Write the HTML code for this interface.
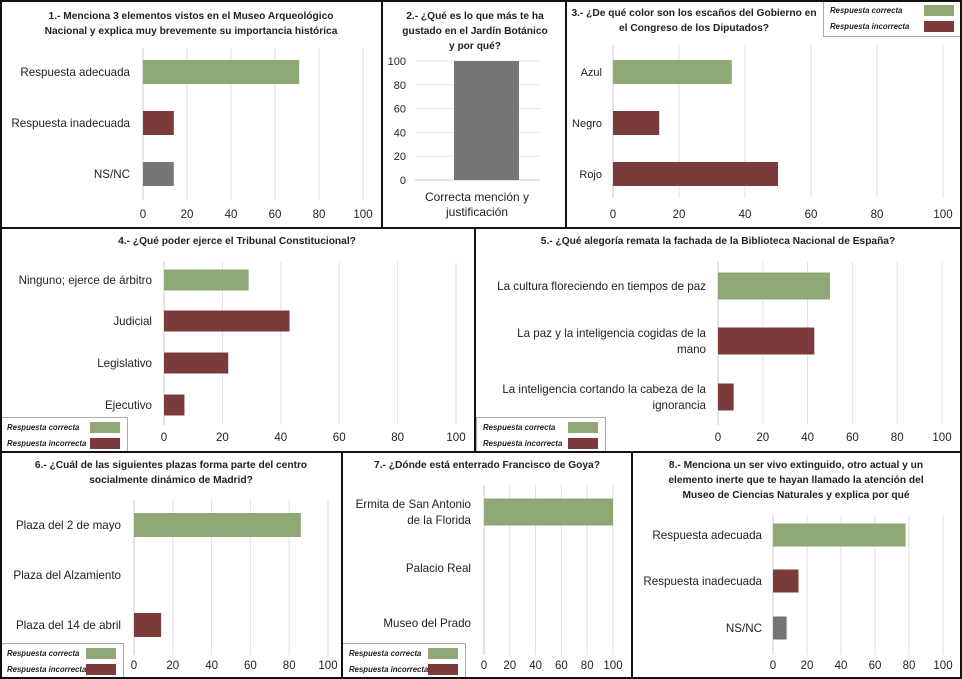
<!DOCTYPE html>
<html><head><meta charset="utf-8"><style>
html,body{margin:0;padding:0;background:#fff;}
svg{display:block;font-family:"Liberation Sans",sans-serif;}
</style></head><body>
<svg id="s" width="962" height="679" viewBox="0 0 962 679"></svg>
<script>
const ticks = [0,20,40,60,80,100];
const tickLabels = ["0","20","40","60","80","100"];
const p1Cats = [["Respuesta adecuada"],["Respuesta inadecuada"],["NS/NC"]];
const p1Vals = [71,14,14];
const p2Cats = ["Correcta mención y","justificación"];
const p2Vals = [100];
const p3Cats = [["Azul"],["Negro"],["Rojo"]];
const p3Vals = [36,14,50];
const p4Cats = [["Ninguno; ejerce de árbitro"],["Judicial"],["Legislativo"],["Ejecutivo"]];
const p4Vals = [29,43,22,7];
const p5Cats = [["La cultura floreciendo en tiempos de paz"],["La paz y la inteligencia cogidas de la","mano"],["La inteligencia cortando la cabeza de la","ignorancia"]];
const p5Vals = [50,43,7];
const p6Cats = [["Plaza del 2 de mayo"],["Plaza del Alzamiento"],["Plaza del 14 de abril"]];
const p6Vals = [86,0,14];
const p7Cats = [["Ermita de San Antonio","de la Florida"],["Palacio Real"],["Museo del Prado"]];
const p7Vals = [100,0,0];
const p8Cats = [["Respuesta adecuada"],["Respuesta inadecuada"],["NS/NC"]];
const p8Vals = [78,15,8];

const G="#8fa876", R="#7b3b3b", K="#767676";
const svg=document.getElementById('s');
const NS="http://www.w3.org/2000/svg";
function mk(tag,attrs,parent){const e=document.createElementNS(NS,tag);for(const k in attrs)e.setAttribute(k,attrs[k]);(parent||svg).appendChild(e);return e;}
function txt(x,y,s,size,anchor,weight,parent,style){const t=mk('text',{x:x,y:y,'font-size':size,'text-anchor':anchor,'fill':'#222'},parent);if(weight)t.setAttribute('font-weight',weight);if(style)t.setAttribute('font-style',style);t.textContent=s;return t;}

function hchart(name,cfg,cats,vals,colors){
  const g=mk('g',{});
  
  
  const sx=v=>cfg.x0+(cfg.x1-cfg.x0)*v/100;
  ticks.forEach((t,i)=>{
    const l=mk('line',{x1:sx(t),x2:sx(t),y1:cfg.gy0,y2:cfg.gy1,stroke:i==0?'#c8c8c8':'#e2e2e2','stroke-width':1},g);
    
    
    const tl=txt(sx(t),cfg.ty,tickLabels[i],11.5,'middle',null,g);
    
    
  });
  cats.forEach((c,i)=>{
    const cy=cfg.cy[i];
    if(vals[i]>0){
      const b=mk('rect',{x:sx(0),y:cy-cfg.bh/2,width:sx(vals[i])-sx(0),height:cfg.bh,fill:colors[i]},g);
      
      
    }
    const n=c.length;
    c.forEach((line,j)=>{
      const t=txt(cfg.lx,cy+4+(j-(n-1)/2)*16,line,cfg.fs||11.6,cfg.la||'end',null,g);
      
      
    });
  });
}
function title(lines,cx,y0,name){
  lines.forEach((l,i)=>{const t=txt(cx,y0+i*15,l,10.2,'middle','bold');
    
    });
}
function legend(x,y,w,h,name){
  const g=mk('g',{});
  
  
  mk('rect',{x:x+0.5,y:y+0.5,width:w-1,height:h-1,fill:'#fff',stroke:'#555','stroke-dasharray':'1,1'},g);
  txt(x+7,y+13,'Respuesta correcta',7.8,'start','bold',g,'italic');
  txt(x+7,y+29,'Respuesta incorrecta',7.8,'start','bold',g,'italic');
  mk('rect',{x:x+w-38,y:y+5,width:30,height:11,fill:G},g);
  mk('rect',{x:x+w-38,y:y+21,width:30,height:11,fill:R},g);
}

// Panel 1
title(["1.- Menciona 3 elementos vistos en el Museo Arqueológico","Nacional y explica muy brevemente su importancia histórica"],191,19,'chart1-title');
hchart('chart1',{x0:143,x1:363,gy0:48,gy1:200,ty:218,cy:[72,123,174],bh:24,lx:130},p1Cats,p1Vals,[G,R,K]);

// Panel 2 (vertical)
title(["2.- ¿Qué es lo que más te ha","gustado en el Jardín Botánico","y por qué?"],475,19,'chart2-title');
(function(){
  const g=mk('g',{});
  
  
  const sy=v=>180-(180-61)*v/100;
  ticks.forEach((t,i)=>{
    mk('line',{x1:415,x2:540,y1:sy(t),y2:sy(t),stroke:i==0?'#c8c8c8':'#e6e6e6'},g);
    const tl=txt(406,sy(t)+4,tickLabels[i],11,'end',null,g);
    
    
  });
  const b=mk('rect',{x:454,y:sy(p2Vals[0]),width:65,height:sy(0)-sy(p2Vals[0]),fill:K},g);
  
  
  p2Cats.forEach((l,i)=>{const t=txt(477,201+i*15,l,12,'middle',null,g);
    
    });
})();

// Panel 3
title(["3.- ¿De qué color son los escaños del Gobierno en","el Congreso de los Diputados?"],694,16,'chart3-title');
hchart('chart3',{x0:613,x1:943,gy0:45,gy1:198,ty:218,cy:[72,123,174],bh:24,lx:602,fs:11},p3Cats,p3Vals,[G,R,R]);
legend(823,0,139,37,'chart3-legend');

// Panel 4
title(["4.- ¿Qué poder ejerce el Tribunal Constitucional?"],237,244,'chart4-title');
hchart('chart4',{x0:164,x1:456,gy0:262,gy1:425,ty:441,cy:[280,321,363,405],bh:21,lx:152},p4Cats,p4Vals,[G,R,R,R]);
legend(0,417,128,35,'chart4-legend');

// Panel 5
title(["5.- ¿Qué alegoría remata la fachada de la Biblioteca Nacional de España?"],718,244,'chart5-title');
hchart('chart5',{x0:718,x1:942,gy0:262,gy1:425,ty:441,cy:[286,341,397],bh:27,lx:706},p5Cats,p5Vals,[G,R,R]);
legend(476,417,130,35,'chart5-legend');

// Panel 6
title(["6.- ¿Cuál de las siguientes plazas forma parte del centro","socialmente dinámico de Madrid?"],171,468,'chart6-title');
hchart('chart6',{x0:134,x1:328,gy0:500,gy1:655,ty:669,cy:[525,575,625],bh:24,lx:121},p6Cats,p6Vals,[G,G,R]);
legend(0,643,124,36,'chart6-legend');

// Panel 7
title(["7.- ¿Dónde está enterrado Francisco de Goya?"],487,468,'chart7-title');
hchart('chart7',{x0:484,x1:613,gy0:485,gy1:655,ty:669,cy:[512,568,623],bh:27,lx:471},p7Cats,p7Vals,[G,G,G]);
legend(342,643,124,36,'chart7-legend');

// Panel 8
title(["8.- Menciona un ser vivo extinguido, otro actual y un","elemento inerte que te hayan llamado la atención del","Museo de Ciencias Naturales y explica por qué"],796,468,'chart8-title');
hchart('chart8',{x0:773,x1:943,gy0:515,gy1:655,ty:669,cy:[535,581,628],bh:23,lx:762},p8Cats,p8Vals,[G,R,K]);

// borders
const borders=[[0,228,962,228],[0,452,962,452],[382,0,382,228],[566,0,566,228],[475,228,475,452],[342,452,342,679],[632,452,632,679]];
const ob=mk('rect',{x:1,y:1,width:960,height:677,fill:'none',stroke:'#111','stroke-width':2});


borders.forEach(b=>{
  const l=mk('line',{x1:b[0],y1:b[1],x2:b[2],y2:b[3],stroke:'#111','stroke-width':2});
  
  
});
</script>
</body></html>
